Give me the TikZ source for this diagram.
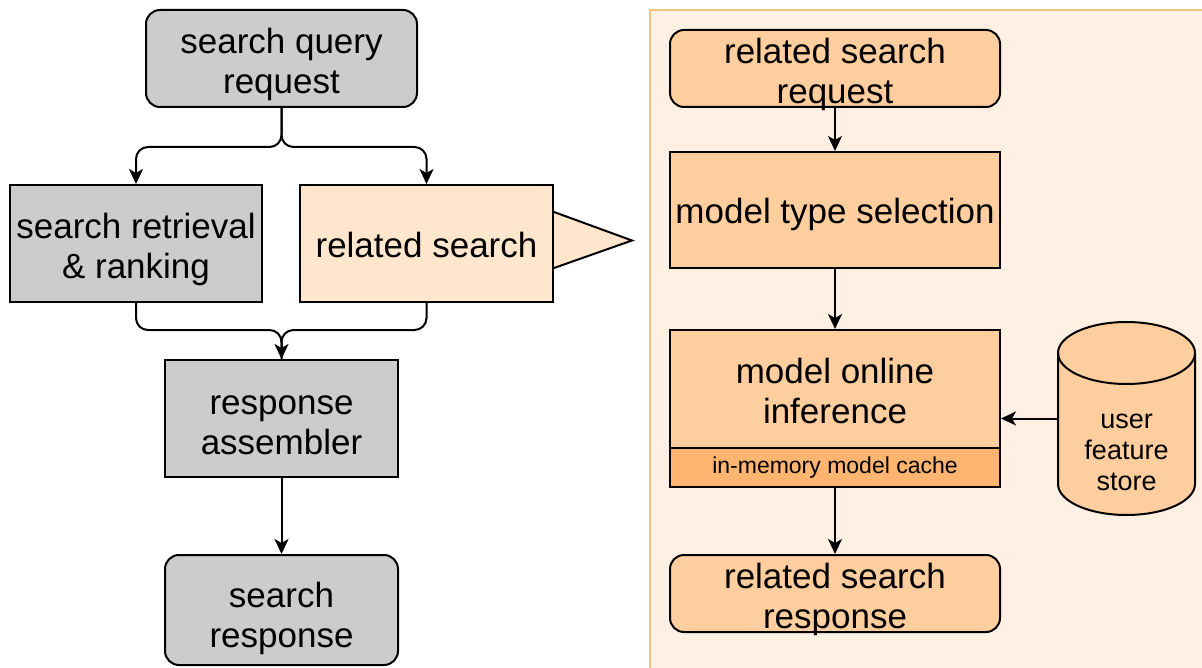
\documentclass[tikz,border=0pt]{standalone}
\usepackage{fontspec}
\setmainfont{Liberation Sans}
\usetikzlibrary{arrows.meta}
\definecolor{gfill}{HTML}{CCCCCC}
\definecolor{lpeach}{HTML}{FFE6CC}
\definecolor{ofill}{HTML}{FFCE9F}
\definecolor{cfill}{HTML}{FFB570}
\definecolor{pfill}{HTML}{FFF0E3}
\definecolor{pborder}{HTML}{EDC87A}
\newcommand{\tup}[1]{\rule{0pt}{#1pt}}
\tikzset{
  box/.style={draw=black, line width=2pt, inner sep=0pt, align=center,
    font=\fontsize{35}{40}\selectfont},
  rbox/.style={box, rounded corners=14pt},
  arr/.style={draw=black, line width=2pt, -{Stealth[length=15pt,width=14pt,inset=4pt]}},
  ln/.style={draw=black, line width=2pt},
}
\begin{document}
\begin{tikzpicture}[x=1pt,y=-1pt]
\useasboundingbox (0,0) rectangle (1202,668);
% panel
\fill[pfill] (650,10) rectangle (1210,680);
\draw[pborder, line width=2pt] (650,680) -- (650,10) -- (1210,10);

% left nodes
\node[rbox, fill=gfill, minimum width=271pt, minimum height=97pt] (sq) at (281.5,58.5) {\tup{37}search query\\request};
\node[box, fill=gfill, minimum width=252pt, minimum height=117pt] (srr) at (136,243.5) {\tup{37}search retrieval\\\& ranking};
\node[box, fill=lpeach, minimum width=253pt, minimum height=117pt] (rs) at (426.5,243.5) {\tup{29}related search};
\draw[ln, fill=lpeach, line join=miter] (rs.east |- 0,212) -- (632,240.5) -- (rs.east |- 0,268);
\node[box, fill=gfill, minimum width=233pt, minimum height=117pt] (ra) at (281.5,418.5) {\tup{33}response\\assembler};
\node[rbox, fill=gfill, minimum width=233pt, minimum height=110pt] (sr) at (281.5,610) {\tup{43}search\\response};

% right nodes
\node[rbox, fill=ofill, minimum width=330pt, minimum height=77pt, text depth=0pt] (rsq) at (835,68.5) {\tup{31}related search\\request};
\node[box, fill=ofill, minimum width=330pt, minimum height=116pt] (mts) at (835,210) {\tup{35}model type selection};
\node[box, fill=ofill, minimum width=330pt, minimum height=118pt] (moi) at (835,389) {\tup{29}model online\\inference};
\node[box, fill=cfill, minimum width=330pt, minimum height=39pt, font=\fontsize{23}{27}\selectfont] (cache) at (835,467.5) {in-memory model cache};
\node[rbox, fill=ofill, minimum width=330pt, minimum height=77pt, text depth=0pt] (rsr) at (835,593.5) {\tup{29}related search\\response};

% cylinder
\node[inner sep=0pt, minimum width=137pt, minimum height=193pt] (ufs) at (1126.5,418.5) {};
\draw[ln, fill=ofill] (1058,353) -- (1058,484) arc (180:0:68.5 and 31) -- (1195,353) arc (0:-180:68.5 and 31) -- cycle;
\draw[ln] (1058,353) arc (180:0:68.5 and 31);
\node[align=center, inner sep=0pt, font=\fontsize{27}{31}\selectfont] (ufst) at (1126.5,452.5) {user\\feature\\store};

% connectors left
\coordinate (split) at (281.5,147);
\coordinate (merge) at (281.5,330);
\draw[arr, rounded corners=12pt] (sq.south) -- (split) -| (srr.north);
\draw[arr, rounded corners=12pt] (sq.south) -- (split) -| (rs.north);
\draw[ln, rounded corners=12pt] (srr.south) |- (merge) -- (ra.north);
\draw[arr, rounded corners=12pt] (rs.south) |- (merge) -- (ra.north);
\draw[arr] (ra.south) -- (sr.north);

% connectors right
\draw[arr] (rsq.south) -- (mts.north);
\draw[arr] (mts.south) -- (moi.north);
\draw[arr] (cache.south) -- (rsr.north);
\draw[arr] (ufs.west) -- (ufs.west -| moi.east);
\end{tikzpicture}
\end{document}
